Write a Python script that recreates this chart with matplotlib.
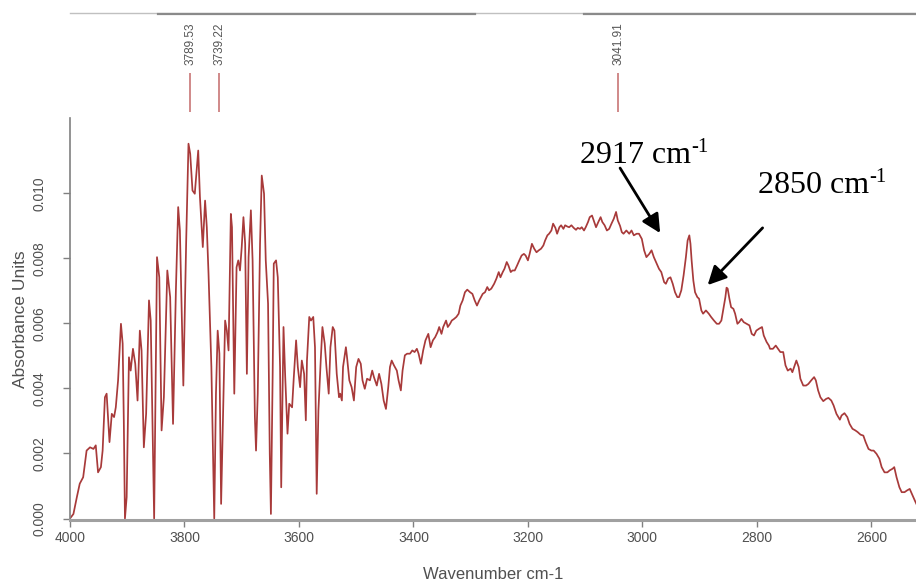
import matplotlib
matplotlib.use('Agg')
import matplotlib.pyplot as plt

# spectrum (wavenumber, absorbance)
wavenumber = [
    4000, 3994, 3988, 3983, 3977, 3971, 3965, 3959, 3955, 3951, 3946, 3943,
    3939, 3936, 3931, 3927, 3923, 3920, 3916, 3911, 3908, 3906, 3904, 3901,
    3897, 3894, 3890, 3886, 3882, 3878, 3875, 3871, 3867, 3862, 3859, 3853,
    3848, 3844, 3840, 3836, 3830, 3825, 3820, 3815, 3811, 3808, 3802, 3797,
    3793, 3790, 3786, 3782, 3776, 3773, 3768, 3764, 3761, 3758, 3753, 3748,
    3745, 3742, 3739, 3736, 3732, 3729, 3726, 3723, 3719, 3717, 3713, 3709,
    3706, 3703, 3700, 3697, 3694, 3691, 3688, 3684, 3681, 3677, 3675, 3672,
    3668, 3665, 3661, 3658, 3654, 3651, 3649, 3646, 3644, 3640, 3637, 3633,
    3631, 3627, 3624, 3620, 3617, 3612, 3609, 3605, 3602, 3598, 3595, 3591,
    3588, 3586, 3582, 3579, 3575, 3572, 3569, 3566, 3562, 3559, 3555, 3552,
    3548, 3545, 3541, 3538, 3534, 3530, 3528, 3525, 3523, 3518, 3516, 3512,
    3508, 3504, 3500, 3496, 3492, 3489, 3485, 3481, 3476, 3472, 3469, 3464,
    3460, 3456, 3452, 3448, 3444, 3441, 3438, 3434, 3429, 3426, 3422, 3419,
    3415, 3411, 3406, 3402, 3398, 3394, 3391, 3387, 3383, 3379, 3374, 3370,
    3366, 3362, 3358, 3355, 3351, 3348, 3343, 3340, 3336, 3333, 3329, 3325,
    3321, 3318, 3314, 3310, 3306, 3301, 3297, 3293, 3289, 3285, 3279, 3275,
    3271, 3268, 3264, 3259, 3255, 3251, 3248, 3244, 3241, 3237, 3234, 3230,
    3227, 3223, 3219, 3215, 3211, 3207, 3204, 3200, 3197, 3193, 3189, 3185,
    3181, 3177, 3173, 3170, 3166, 3163, 3159, 3156, 3152, 3149, 3145, 3142,
    3138, 3135, 3131, 3128, 3124, 3120, 3116, 3113, 3109, 3106, 3102, 3099,
    3095, 3092, 3088, 3085, 3081, 3077, 3073, 3070, 3066, 3062, 3058, 3054,
    3050, 3046, 3043, 3039, 3036, 3033, 3028, 3023, 3019, 3015, 3010, 3006,
    3001, 2997, 2993, 2988, 2984, 2980, 2975, 2971, 2967, 2962, 2959, 2955,
    2951, 2947, 2943, 2939, 2936, 2932, 2928, 2924, 2921, 2918, 2916, 2914,
    2911, 2908, 2904, 2901, 2897, 2894, 2889, 2884, 2880, 2875, 2870, 2866,
    2862, 2859, 2855, 2853, 2851, 2848, 2845, 2841, 2838, 2834, 2831, 2827,
    2823, 2818, 2813, 2809, 2805, 2801, 2796, 2791, 2788, 2783, 2779, 2777,
    2772, 2767, 2763, 2759, 2754, 2750, 2746, 2741, 2738, 2734, 2731, 2727,
    2724, 2719, 2714, 2710, 2705, 2700, 2697, 2693, 2689, 2684, 2679, 2675,
    2670, 2666, 2661, 2655, 2652, 2647, 2642, 2638, 2633, 2628, 2624, 2619,
    2614, 2610, 2605, 2600, 2596, 2591, 2586, 2582, 2577, 2572, 2568, 2563,
    2560, 2556, 2551, 2547, 2542, 2538, 2533, 2528, 2524, 2520,
]
absorbance = [
    0.00000, 0.00014, 0.00066, 0.00107, 0.00127, 0.00209, 0.00219, 0.00214,
    0.00225, 0.00142, 0.00158, 0.00209, 0.00373, 0.00384, 0.00235, 0.00322,
    0.00312, 0.00342, 0.00425, 0.00599, 0.00538, 0.00300, 0.00000, 0.00066,
    0.00496, 0.00455, 0.00522, 0.00476, 0.00363, 0.00578, 0.00517, 0.00219,
    0.00322, 0.00671, 0.00609, 0.00000, 0.00804, 0.00742, 0.00271, 0.00373,
    0.00763, 0.00681, 0.00291, 0.00702, 0.00958, 0.00886, 0.00409, 0.00855,
    0.01153, 0.01122, 0.01009, 0.00999, 0.01132, 0.00989, 0.00835, 0.00978,
    0.00896, 0.00753, 0.00466, 0.00000, 0.00384, 0.00578, 0.00507, 0.00045,
    0.00363, 0.00609, 0.00578, 0.00517, 0.00937, 0.00896, 0.00384, 0.00773,
    0.00794, 0.00763, 0.00835, 0.00927, 0.00845, 0.00445, 0.00804, 0.00948,
    0.00794, 0.00312, 0.00209, 0.00384, 0.00845, 0.01055, 0.00999, 0.00794,
    0.00661, 0.00199, 0.00014, 0.00435, 0.00784, 0.00794, 0.00742, 0.00466,
    0.00096, 0.00589, 0.00435, 0.00261, 0.00353, 0.00342, 0.00435, 0.00548,
    0.00466, 0.00404, 0.00486, 0.00445, 0.00302, 0.00486, 0.00620, 0.00609,
    0.00620, 0.00527, 0.00076, 0.00332, 0.00486, 0.00589, 0.00538, 0.00466,
    0.00384, 0.00527, 0.00589, 0.00578, 0.00445, 0.00373, 0.00384, 0.00363,
    0.00466, 0.00527, 0.00496, 0.00425, 0.00404, 0.00363, 0.00466, 0.00491,
    0.00476, 0.00425, 0.00399, 0.00430, 0.00425, 0.00455, 0.00435, 0.00409,
    0.00445, 0.00414, 0.00363, 0.00337, 0.00404, 0.00466, 0.00486, 0.00471,
    0.00455, 0.00425, 0.00394, 0.00455, 0.00502, 0.00507, 0.00507, 0.00517,
    0.00512, 0.00522, 0.00507, 0.00476, 0.00517, 0.00548, 0.00568, 0.00527,
    0.00548, 0.00558, 0.00573, 0.00589, 0.00568, 0.00589, 0.00609, 0.00589,
    0.00599, 0.00609, 0.00614, 0.00620, 0.00630, 0.00655, 0.00671, 0.00696,
    0.00704, 0.00696, 0.00691, 0.00671, 0.00655, 0.00671, 0.00691, 0.00696,
    0.00712, 0.00702, 0.00707, 0.00722, 0.00738, 0.00758, 0.00742, 0.00758,
    0.00768, 0.00789, 0.00778, 0.00758, 0.00763, 0.00763, 0.00778, 0.00794,
    0.00809, 0.00814, 0.00809, 0.00794, 0.00814, 0.00845, 0.00830, 0.00819,
    0.00825, 0.00830, 0.00840, 0.00855, 0.00871, 0.00876, 0.00886, 0.00907,
    0.00894, 0.00876, 0.00896, 0.00902, 0.00891, 0.00902, 0.00898, 0.00896,
    0.00902, 0.00894, 0.00888, 0.00894, 0.00891, 0.00896, 0.00886, 0.00896,
    0.00912, 0.00927, 0.00932, 0.00917, 0.00896, 0.00912, 0.00927, 0.00912,
    0.00902, 0.00886, 0.00891, 0.00907, 0.00922, 0.00943, 0.00917, 0.00900,
    0.00881, 0.00876, 0.00886, 0.00876, 0.00886, 0.00871, 0.00876, 0.00876,
    0.00860, 0.00825, 0.00804, 0.00814, 0.00825, 0.00804, 0.00784, 0.00768,
    0.00758, 0.00727, 0.00722, 0.00738, 0.00742, 0.00722, 0.00696, 0.00681,
    0.00681, 0.00702, 0.00748, 0.00804, 0.00855, 0.00871, 0.00845, 0.00794,
    0.00732, 0.00696, 0.00681, 0.00676, 0.00640, 0.00630, 0.00640, 0.00630,
    0.00620, 0.00609, 0.00599, 0.00599, 0.00609, 0.00640, 0.00681, 0.00710,
    0.00707, 0.00676, 0.00650, 0.00645, 0.00630, 0.00599, 0.00604, 0.00614,
    0.00604, 0.00599, 0.00594, 0.00568, 0.00563, 0.00578, 0.00584, 0.00589,
    0.00563, 0.00543, 0.00532, 0.00522, 0.00522, 0.00532, 0.00522, 0.00512,
    0.00512, 0.00471, 0.00455, 0.00461, 0.00450, 0.00471, 0.00486, 0.00466,
    0.00430, 0.00409, 0.00409, 0.00414, 0.00425, 0.00435, 0.00425, 0.00394,
    0.00373, 0.00361, 0.00368, 0.00371, 0.00363, 0.00348, 0.00322, 0.00304,
    0.00317, 0.00324, 0.00312, 0.00291, 0.00276, 0.00271, 0.00266, 0.00258,
    0.00255, 0.00235, 0.00214, 0.00209, 0.00209, 0.00199, 0.00184, 0.00158,
    0.00142, 0.00142, 0.00148, 0.00153, 0.00158, 0.00127, 0.00096, 0.00081,
    0.00081, 0.00086, 0.00091, 0.00071, 0.00055, 0.00040,
]

# picked peaks shown above the plot
peaks = [3789.53, 3739.22, 3041.91]

# hand annotations: label, text anchor, arrow tail, arrow head
bands = ['2917 cm', '2850 cm']
band_text_at = [(3109, 0.01094), (2798, 0.01002)]
arrow_tail = [(3039, 0.01078), (2790, 0.00894)]
arrow_head = [(2969, 0.00878), (2886, 0.00718)]

x_ticks = [4000, 3800, 3600, 3400, 3200, 3000, 2800, 2600]
y_ticks = [0.000, 0.002, 0.004, 0.006, 0.008, 0.010]

fig = plt.figure(figsize=(9.16, 5.81), dpi=100)
ax = fig.add_axes([70 / 916, 1 - 520 / 581, 846 / 916, 402 / 581])

ax.plot(wavenumber, absorbance, color='#a83a3a', linewidth=1.25)

ax.set_xlim(4000, 2522)
ax.set_ylim(-0.000046, 0.01232)
ax.set_xticks(x_ticks)
ax.set_xticklabels([str(t) for t in x_ticks])
ax.set_yticks(y_ticks)
ax.set_yticklabels(['%.3f' % t for t in y_ticks], rotation=90, va='center')

# axes look
for side in ['top', 'right']:
    ax.spines[side].set_visible(False)
ax.spines['left'].set_color('#808080')
ax.spines['left'].set_linewidth(1.2)
ax.spines['bottom'].set_color('#a0a0a0')
ax.spines['bottom'].set_linewidth(2.2)
ax.tick_params(axis='both', colors='#808080', labelcolor='#505050',
               labelsize=10, length=5, width=1.0,
               labelfontfamily='Liberation Sans')
ax.tick_params(axis='x', pad=3)
ax.tick_params(axis='y', pad=12)

ax.set_xlabel('Wavenumber cm-1', fontsize=12, color='#505050',
              family='Liberation Sans', labelpad=16)
ax.set_ylabel('Absorbance Units', fontsize=12.5, color='#505050',
              family='Liberation Sans', labelpad=3)

# peak markers above the axes
xt = ax.get_xaxis_transform()
ax.vlines(peaks, 1.015, 1.112, transform=xt, clip_on=False,
          color='#c46a6a', linewidth=1.1)
for p in peaks:
    ax.text(p, 1.133, '%.2f' % p, transform=xt, rotation=90,
            ha='center', va='bottom', fontsize=8.5, color='#555555',
            family='Liberation Sans')

# header rule of the peak panel
ax.plot([0, 1], [1.26, 1.26], transform=ax.transAxes, clip_on=False,
        color='#c0c0c0', linewidth=1.0)
ax.plot([0.104, 0.479], [1.258, 1.258], transform=ax.transAxes,
        clip_on=False, color='#8a8a8a', linewidth=1.6)
ax.plot([0.608, 1.0], [1.258, 1.258], transform=ax.transAxes,
        clip_on=False, color='#8a8a8a', linewidth=1.6)

# band annotations
arrow = dict(arrowstyle='-|>', color='black', linewidth=2.0,
             mutation_scale=28, shrinkA=0, shrinkB=0)
for label, pos, tail, head in zip(bands, band_text_at, arrow_tail, arrow_head):
    t = ax.text(pos[0], pos[1], label, fontsize=23,
                family='Liberation Serif', color='black', va='baseline')
    ax.annotate('-1', xy=(1.0, 1.1), xycoords=t, ha='left', va='top',
                fontsize=15, family='Liberation Serif', color='black')
    ax.annotate('', xy=head, xytext=tail, arrowprops=arrow)

fig.savefig('out.png', dpi=100)
